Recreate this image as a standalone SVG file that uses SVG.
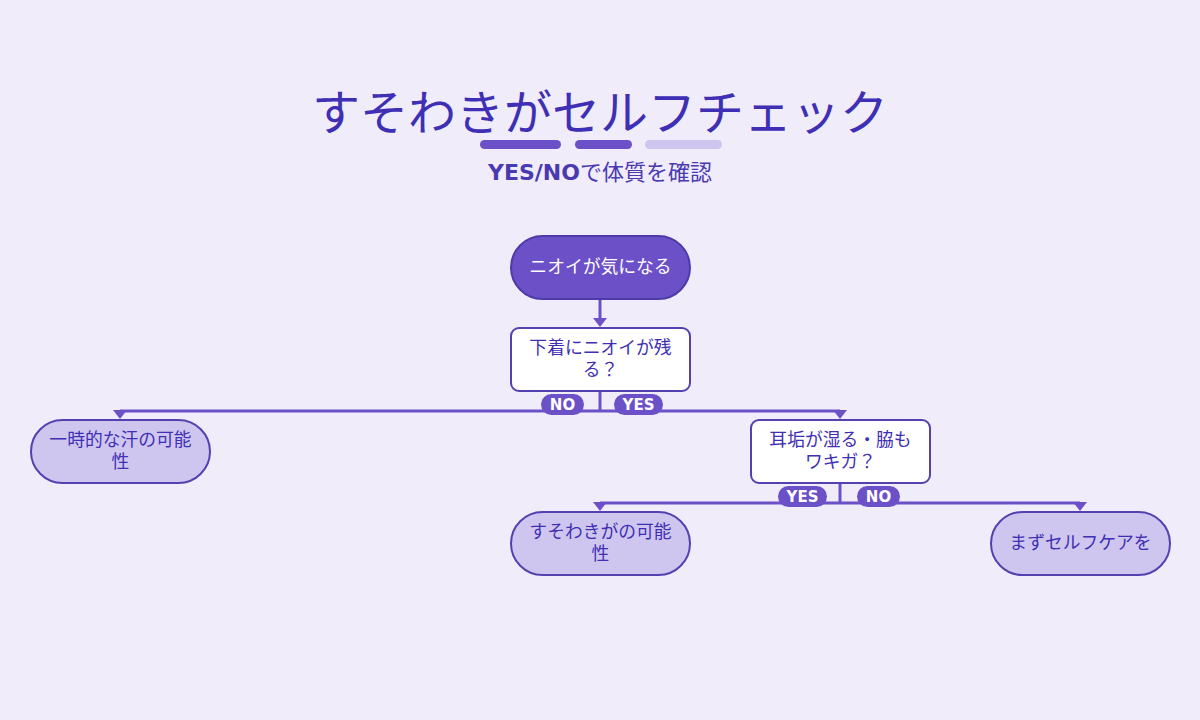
<svg xmlns="http://www.w3.org/2000/svg" width="1200" height="720" viewBox="0 0 1200 720">
<defs>
<style>
.jp{font-family:"Noto Sans CJK JP","DejaVu Sans",sans-serif}
.title{font-size:48px;fill:#3f2fb4}
.sub{font-size:22px;fill:#4a3ab0}
.nt{font-size:17.8px;fill:#3f2fb4;text-anchor:middle}
.nw{font-size:17.8px;fill:#ffffff;text-anchor:middle}
.start{fill:#6b50c8;stroke:#4e3aa8;stroke-width:2}
.dec{fill:#ffffff;stroke:#5540b0;stroke-width:2}
.res{fill:#cfc6ef;stroke:#5540b0;stroke-width:2}
.line{stroke:#6b50c8;stroke-width:3;fill:none}
.pill{fill:#6b50c8}
.pt{font-family:"DejaVu Sans",sans-serif;font-weight:bold;font-size:15px;fill:#ffffff;text-anchor:middle}
</style>
</defs>
<rect width="1200" height="720" fill="#f0ecfa"/>
<g id="header">
<text class="jp title" x="600" y="130" text-anchor="middle">すそわきがセルフチェック</text>
<rect x="480" y="140" width="81" height="9" rx="4.5" fill="#6b50c8"/>
<rect x="575" y="140" width="57" height="9" rx="4.5" fill="#6b50c8"/>
<rect x="645" y="140" width="77" height="9" rx="4.5" fill="#cfc6ef"/>
<text class="jp sub" x="600" y="180" text-anchor="middle"><tspan font-family="DejaVu Sans" font-weight="bold">YES/NO</tspan>で体質を確認</text>
</g>
<g id="connectors">
<path class="line" d="M600,299 V318"/>
<path d="M593,318 L607,318 L600,327 Z" fill="#6b50c8"/>
<path class="line" d="M600,391 V411"/>
<path class="line" d="M120,411 H840"/>
<path d="M113,410 L127,410 L120,419 Z" fill="#6b50c8"/>
<path d="M833,410 L847,410 L840,419 Z" fill="#6b50c8"/>
<path class="line" d="M840,483 V503"/>
<path class="line" d="M600,503 H1080"/>
<path d="M593,502 L607,502 L600,511 Z" fill="#6b50c8"/>
<path d="M1073,502 L1087,502 L1080,511 Z" fill="#6b50c8"/>
<g id="labels">
<rect class="pill" x="541" y="394" width="43" height="21" rx="10.5"/>
<text class="pt" x="562.5" y="410">NO</text>
<rect class="pill" x="614" y="394" width="49" height="21" rx="10.5"/>
<text class="pt" x="638.5" y="410">YES</text>
<rect class="pill" x="778" y="486" width="49" height="21" rx="10.5"/>
<text class="pt" x="802.5" y="502">YES</text>
<rect class="pill" x="857" y="486" width="43" height="21" rx="10.5"/>
<text class="pt" x="878.5" y="502">NO</text>
</g>
</g>
<g id="n-start">
<rect class="start" x="511" y="236" width="179" height="63" rx="31.5"/>
<text class="jp nw" x="600.5" y="273">ニオイが気になる</text>
</g>
<g id="n-q1">
<rect class="dec" x="511" y="328" width="179" height="63" rx="8"/>
<text class="jp nt" x="600.5" y="354">下着にニオイが残</text>
<text class="jp nt" x="600.5" y="376">る？</text>
</g>
<g id="n-sweat">
<rect class="res" x="31" y="420" width="179" height="63" rx="31.5"/>
<text class="jp nt" x="120.5" y="446">一時的な汗の可能</text>
<text class="jp nt" x="120.5" y="468">性</text>
</g>
<g id="n-q2">
<rect class="dec" x="751" y="420" width="179" height="63" rx="8"/>
<text class="jp nt" x="840.5" y="446">耳垢が湿る・脇も</text>
<text class="jp nt" x="840.5" y="468">ワキガ？</text>
</g>
<g id="n-suso">
<rect class="res" x="511" y="512" width="179" height="63" rx="31.5"/>
<text class="jp nt" x="600.5" y="538">すそわきがの可能</text>
<text class="jp nt" x="600.5" y="560">性</text>
</g>
<g id="n-self">
<rect class="res" x="991" y="512" width="179" height="63" rx="31.5"/>
<text class="jp nt" x="1080.5" y="549">まずセルフケアを</text>
</g>
</svg>
